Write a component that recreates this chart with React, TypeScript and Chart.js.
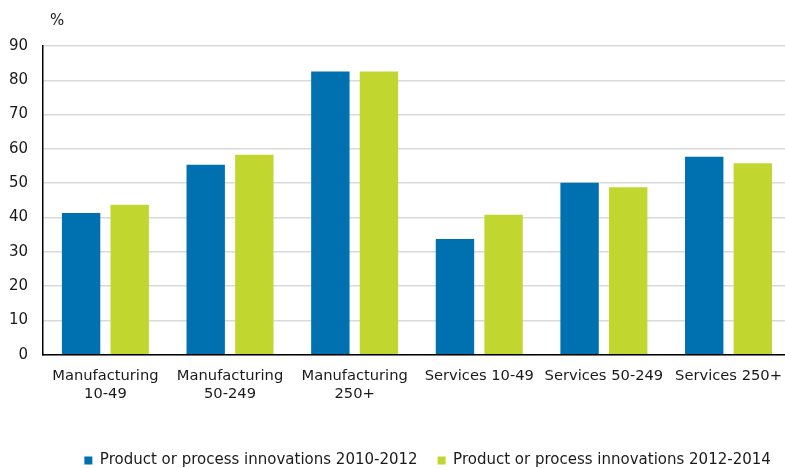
import React, { useEffect, useRef } from "react";
import { Chart, registerables } from "chart.js";

Chart.register(...registerables);

const categories: (string | string[])[] = [
  ["Manufacturing", "10-49"],
  ["Manufacturing", "50-249"],
  ["Manufacturing", "250+"],
  "Services 10-49",
  "Services 50-249",
  "Services 250+",
];
const seriesNames = [
  "Product or process innovations 2010-2012",
  "Product or process innovations 2012-2014",
];
const values2010_2012 = [41.3, 55.4, 82.6, 33.7, 50.1, 57.7];
const values2012_2014 = [43.7, 58.3, 82.6, 40.8, 48.8, 55.8];
const yTickValues = [0, 10, 20, 30, 40, 50, 60, 70, 80, 90];
const unitLabel = "%";

const FONT = "'DejaVu Sans', sans-serif";

export default function App() {
  const ref = useRef<HTMLCanvasElement | null>(null);
  useEffect(() => {
    if (!ref.current) return;
    const unitPlugin = {
      id: "unitLabel",
      afterDraw(chart: any) {
        const ctx = chart.ctx;
        ctx.save();
        ctx.font = `15px ${FONT}`;
        ctx.fillStyle = "#1a1a1a";
        ctx.textBaseline = "middle";
        ctx.textAlign = "left";
        ctx.fillText(unitLabel, chart.chartArea.left + 7, 21);
        ctx.restore();
      },
    };
    const chart = new Chart(ref.current, {
      type: "bar",
      data: {
        labels: categories,
        datasets: [
          {
            label: seriesNames[0],
            data: values2010_2012,
            backgroundColor: "#0071b0",
          },
          {
            label: seriesNames[1],
            data: values2012_2014,
            backgroundColor: "#c1d730",
          },
        ],
      },
      options: {
        animation: false,
        responsive: false,
        maintainAspectRatio: false,
        devicePixelRatio: 1,
        layout: { padding: { top: 46, left: 9, right: 0, bottom: 0 } },
        datasets: {
          bar: { categoryPercentage: 0.78, barPercentage: 0.79 },
        },
        plugins: {
          title: { display: false },
          tooltip: { enabled: false },
          legend: {
            position: "bottom",
            align: "end",
            fullSize: false,
            labels: {
              boxWidth: 8,
              boxHeight: 8,
              padding: 20,
              color: "#1a1a1a",
              font: { family: FONT, size: 15 },
            },
          },
        },
        scales: {
          x: {
            grid: { display: false, drawTicks: false },
            border: { display: true, color: "#000", width: 1.5 },
            ticks: {
              color: "#1a1a1a",
              padding: 13,
              maxRotation: 0,
              autoSkip: false,
              font: { family: FONT, size: 14.7 },
            },
            afterFit: (scale: any) => {
              scale.height += 17;
            },
          },
          y: {
            min: 0,
            max: 90,
            afterBuildTicks: (scale: any) => {
              scale.ticks = yTickValues.map((v) => ({ value: v }));
            },
            afterFit: (scale: any) => {
              scale.width -= 15;
            },
            grid: { color: "#d9d9d9", lineWidth: 1.5, drawTicks: false },
            border: { display: true, color: "#000", width: 1.5 },
            ticks: {
              color: "#1a1a1a",
              padding: 15,
              font: { family: FONT, size: 15 },
            },
          },
        },
      },
      plugins: [unitPlugin],
    });
    return () => chart.destroy();
  }, []);
  return (
    <div
      style={{
        position: "absolute",
        left: 0,
        top: 0,
        width: 785,
        height: 468,
        overflow: "hidden",
        background: "#fff",
      }}
    >
      <canvas ref={ref} width={795} height={478} style={{ width: 795, height: 478, display: "block" }} />
    </div>
  );
}
